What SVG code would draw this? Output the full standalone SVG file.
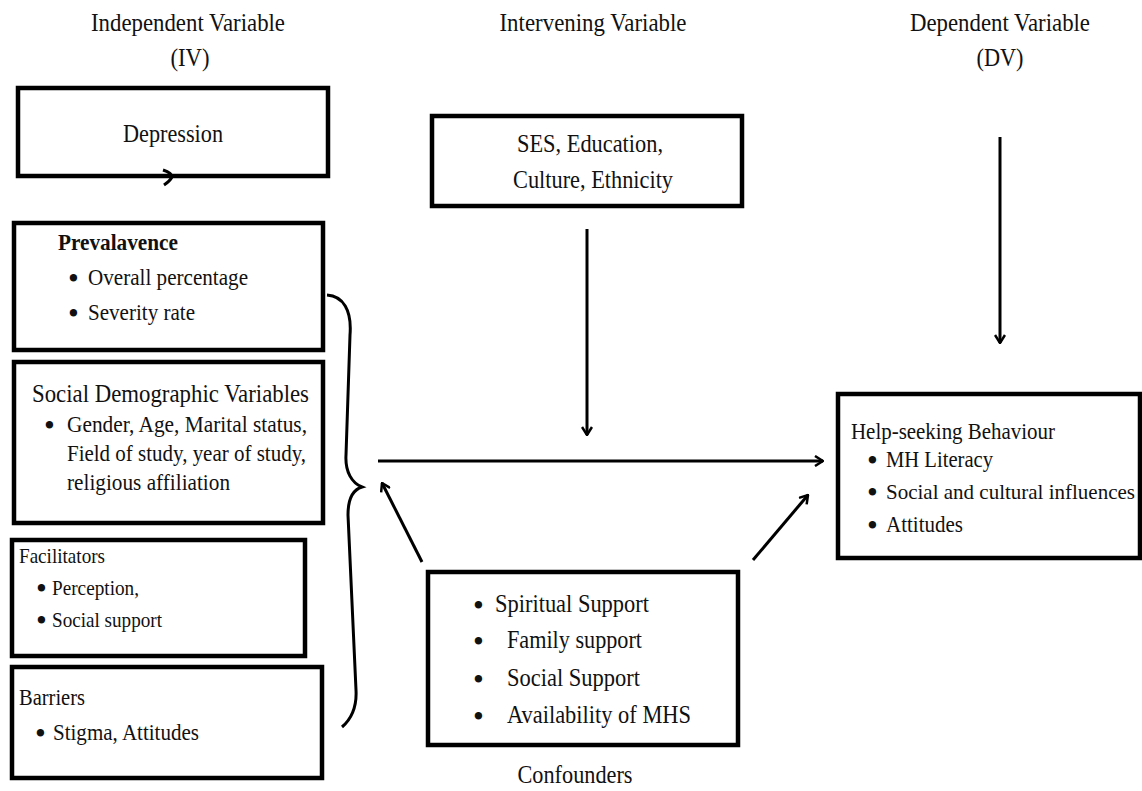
<svg xmlns="http://www.w3.org/2000/svg" width="1142" height="791" viewBox="0 0 1142 791">
<style>
text{font-family:"Liberation Serif","Times New Roman",serif;fill:#111;}
.h{font-size:24.5px;text-anchor:middle;}
.t{font-size:25px;}
.s{font-size:24px;}
.f{font-size:21.5px;}
.n{font-size:21px;}
.c{text-anchor:middle;}
.b{font-weight:bold;}
.bl{font-size:31px;}
.box{fill:#fff;stroke:#000;stroke-width:4.5;}
.ln{fill:none;stroke:#000;stroke-width:3;}
</style>
<defs>
<marker id="ah" viewBox="0 0 10 12" refX="9" refY="6" markerWidth="10" markerHeight="12" markerUnits="userSpaceOnUse" orient="auto">
<path d="M1,1 L9,6 L1,11" fill="none" stroke="#000" stroke-width="2.5"/>
</marker>
</defs>
<rect width="1142" height="791" fill="#fff"/>

<g id="headers">
<text class="h" x="188" y="31" textLength="194" lengthAdjust="spacingAndGlyphs">Independent Variable</text>
<text class="h" x="190" y="66" textLength="39" lengthAdjust="spacingAndGlyphs">(IV)</text>
<text class="h" x="593" y="31" textLength="187" lengthAdjust="spacingAndGlyphs">Intervening Variable</text>
<text class="h" x="1000" y="31" textLength="180" lengthAdjust="spacingAndGlyphs">Dependent Variable</text>
<text class="h" x="1000" y="66" textLength="47" lengthAdjust="spacingAndGlyphs">(DV)</text>
</g>

<g id="depression">
<rect class="box" x="18" y="88" width="310" height="88"/>
<text class="t c" x="173" y="142" textLength="100" lengthAdjust="spacingAndGlyphs">Depression</text>
<path class="ln" d="M163,170 Q172,173 172,177 Q170,181 164,185"/>
</g>

<g id="prevalavence">
<rect class="box" x="14" y="223" width="309" height="127"/>
<text class="s b" x="58" y="250" textLength="120" lengthAdjust="spacingAndGlyphs">Prevalavence</text>
<text class="bl" x="68" y="289">•</text>
<text class="s" x="88" y="285" textLength="160" lengthAdjust="spacingAndGlyphs">Overall percentage</text>
<text class="bl" x="68" y="324">•</text>
<text class="s" x="88" y="320" textLength="107" lengthAdjust="spacingAndGlyphs">Severity rate</text>
</g>

<g id="social-demographic">
<rect class="box" x="14" y="362" width="309" height="161"/>
<text class="t" x="32" y="402" textLength="277" lengthAdjust="spacingAndGlyphs">Social Demographic Variables</text>
<text class="bl" x="44" y="436">•</text>
<text class="s" x="67" y="432" textLength="240" lengthAdjust="spacingAndGlyphs">Gender, Age, Marital status,</text>
<text class="s" x="67" y="461" textLength="239" lengthAdjust="spacingAndGlyphs">Field of study, year of study,</text>
<text class="s" x="67" y="490" textLength="163" lengthAdjust="spacingAndGlyphs">religious affiliation</text>
</g>

<g id="facilitators">
<rect class="box" x="12" y="540" width="293" height="116"/>
<text class="f" x="19" y="563" textLength="86" lengthAdjust="spacingAndGlyphs">Facilitators</text>
<text class="bl" x="36" y="599">•</text>
<text class="f" x="52" y="595" textLength="87" lengthAdjust="spacingAndGlyphs">Perception,</text>
<text class="bl" x="36" y="631">•</text>
<text class="f" x="52" y="627" textLength="110" lengthAdjust="spacingAndGlyphs">Social support</text>
</g>

<g id="barriers">
<rect class="box" x="12" y="667" width="310" height="111"/>
<text class="s" x="19" y="705" textLength="66" lengthAdjust="spacingAndGlyphs">Barriers</text>
<text class="bl" x="35" y="744">•</text>
<text class="s" x="53" y="740" textLength="146" lengthAdjust="spacingAndGlyphs">Stigma, Attitudes</text>
</g>

<g id="intervening">
<rect class="box" x="432" y="116" width="310" height="90"/>
<text class="t c" x="590" y="152" textLength="146" lengthAdjust="spacingAndGlyphs">SES, Education,</text>
<text class="t c" x="593" y="188" textLength="160" lengthAdjust="spacingAndGlyphs">Culture, Ethnicity</text>
</g>

<g id="confounders">
<rect class="box" x="428" y="572" width="310" height="173"/>
<text class="bl" x="473" y="616">•</text>
<text class="t" x="495" y="612" textLength="154" lengthAdjust="spacingAndGlyphs">Spiritual Support</text>
<text class="bl" x="473" y="652">•</text>
<text class="t" x="507" y="648" textLength="135" lengthAdjust="spacingAndGlyphs">Family support</text>
<text class="bl" x="473" y="690">•</text>
<text class="t" x="507" y="686" textLength="133" lengthAdjust="spacingAndGlyphs">Social Support</text>
<text class="bl" x="473" y="727">•</text>
<text class="t" x="507" y="723" textLength="184" lengthAdjust="spacingAndGlyphs">Availability of MHS</text>
<text class="t c" x="575" y="783" textLength="115" lengthAdjust="spacingAndGlyphs">Confounders</text>
</g>

<g id="help-seeking">
<rect class="box" x="838" y="394" width="302" height="164"/>
<text class="s" x="851" y="439" textLength="204" lengthAdjust="spacingAndGlyphs">Help-seeking Behaviour</text>
<text class="bl" x="867" y="471">•</text>
<text class="s" x="886" y="467" textLength="107" lengthAdjust="spacingAndGlyphs">MH Literacy</text>
<text class="bl" x="867" y="503">•</text>
<text class="n" x="886" y="499">Social and cultural influences</text>
<text class="bl" x="867" y="536">•</text>
<text class="s" x="886" y="532" textLength="77" lengthAdjust="spacingAndGlyphs">Attitudes</text>
</g>

<g id="connectors">
<path class="ln" d="M327,295 C343,296 352,310 350,335 L346,455 C345,472 352,483 362,487 C352,490 348,500 348,515 L356,690 C357,708 350,720 342,727"/>
<line class="ln" x1="587" y1="229" x2="587" y2="435" marker-end="url(#ah)"/>
<line class="ln" x1="1000" y1="137" x2="1000" y2="343" marker-end="url(#ah)"/>
<line class="ln" x1="378" y1="461" x2="823" y2="461" marker-end="url(#ah)"/>
<line class="ln" x1="422" y1="562" x2="382" y2="483" marker-end="url(#ah)"/>
<line class="ln" x1="753" y1="560" x2="808" y2="495" marker-end="url(#ah)"/>
</g>
</svg>
